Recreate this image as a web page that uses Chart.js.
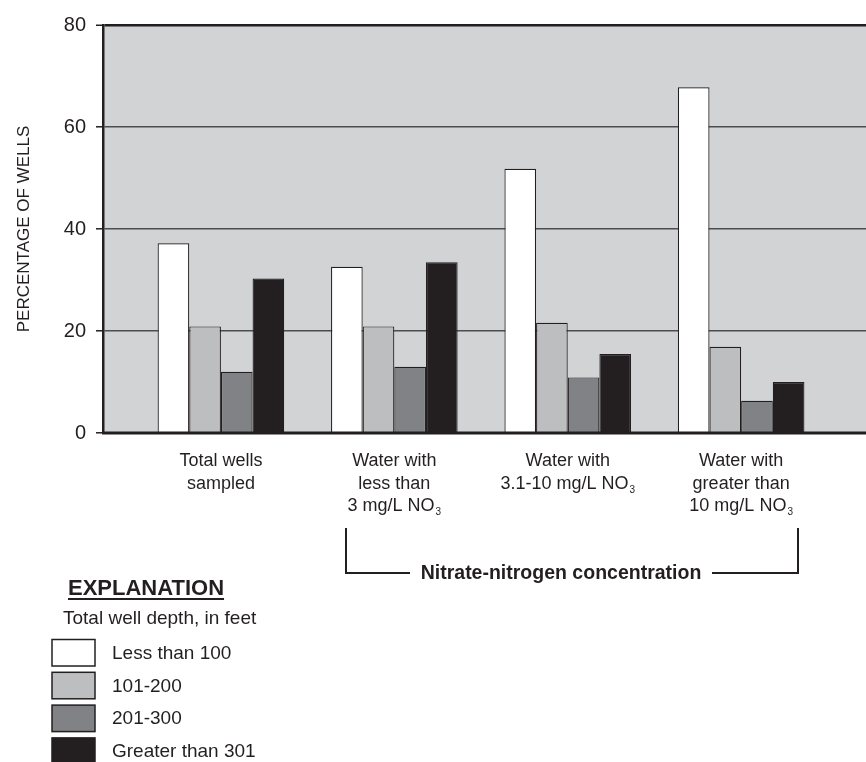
<!DOCTYPE html>
<html>
<head>
<meta charset="utf-8">
<title>Percentage of wells by total well depth</title>
<script src="https://cdn.jsdelivr.net/npm/chart.js@4"></script>
<style>
  body { margin: 0; background: #ffffff; }
  canvas { display: block; }
</style>
</head>
<body>
<canvas id="wellsChart" width="866" height="762"></canvas>
<script>
// data
const categories = [
  ["Total wells", "sampled"],
  ["Water with", "less than", "3 mg/L NO₃"],
  ["Water with", "3.1-10 mg/L NO₃"],
  ["Water with", "greater than", "10 mg/L NO₃"]
];
const depthClasses = ["Less than 100", "101-200", "201-300", "Greater than 301"];
const lessThan100 = [37.2, 32.6, 51.8, 67.8];
const depth101to200 = [20.9, 20.9, 21.6, 16.9];
const depth201to300 = [12.0, 13.0, 10.9, 6.3];
const greaterThan301 = [30.3, 33.5, 15.5, 10.0];
const yTicks = [0, 20, 40, 60, 80];
const bracketTitle = "Nitrate-nitrogen concentration";
const legendTitle = "EXPLANATION";
const legendSubtitle = "Total well depth, in feet";
const yTitle = "PERCENTAGE OF WELLS";

const seriesValues = [lessThan100, depth101to200, depth201to300, greaterThan301];
const barColors = ["#ffffff", "#bcbec0", "#808285", "#231f20"];
const ink = "#231f20";
const family = "'Liberation Sans', Arial, Helvetica, sans-serif";

const datasets = seriesValues.map((vals, s) => ({
  label: depthClasses[s],
  data: vals.map((v, i) => ({ x: i, y: v })),
  backgroundColor: barColors[s],
  borderColor: ink,
  borderWidth: 1.2,
  categoryPercentage: 0.73,
  barPercentage: 1.0
}));

// draws a label line, turning "₃" into a small lowered 3
function drawLabelLine(ctx, text, cx, y, size) {
  const parts = text.split("₃");
  ctx.font = size + "px " + family;
  const w = ctx.measureText(parts[0]).width;
  let subW = 0;
  if (parts.length > 1) {
    ctx.font = Math.round(size * 0.55) + "px " + family;
    subW = ctx.measureText("3").width + 1;
  }
  const x0 = cx - (w + subW) / 2;
  ctx.textAlign = "left";
  ctx.font = size + "px " + family;
  ctx.fillText(parts[0], x0, y);
  if (parts.length > 1) {
    ctx.font = Math.round(size * 0.55) + "px " + family;
    ctx.fillText("3", x0 + w + 1, y + 4);
  }
}

const plotBackground = {
  id: "plotBackground",
  beforeDraw(chart) {
    const { ctx, chartArea: a } = chart;
    ctx.save();
    ctx.fillStyle = "#d1d3d4";
    ctx.fillRect(a.left, a.top, a.right - a.left, a.bottom - a.top);
    ctx.restore();
  }
};

const extras = {
  id: "extras",
  afterDraw(chart) {
    const { ctx, chartArea: a } = chart;
    const x = chart.scales.x;
    ctx.save();
    ctx.strokeStyle = ink;
    ctx.fillStyle = ink;

    // bottom axis line
    ctx.lineWidth = 3;
    ctx.beginPath();
    ctx.moveTo(a.left - 1, a.bottom);
    ctx.lineTo(a.right, a.bottom);
    ctx.stroke();

    // category labels
    ctx.textBaseline = "alphabetic";
    categories.forEach((lines, i) => {
      const cx = x.getPixelForValue(i);
      lines.forEach((line, k) => drawLabelLine(ctx, line, cx, 466 + k * 22.5, 18));
    });

    // bracket under the nitrate groups
    ctx.lineWidth = 2;
    ctx.beginPath();
    ctx.moveTo(346, 528);
    ctx.lineTo(346, 573);
    ctx.lineTo(410, 573);
    ctx.moveTo(712, 573);
    ctx.lineTo(798, 573);
    ctx.lineTo(798, 528);
    ctx.stroke();
    ctx.font = "bold 19.5px " + family;
    ctx.textAlign = "center";
    ctx.textBaseline = "middle";
    ctx.fillText(bracketTitle, 561, 574);

    // explanation block
    ctx.font = "bold 22px " + family;
    ctx.textAlign = "left";
    ctx.textBaseline = "alphabetic";
    ctx.fillText(legendTitle, 68, 595);
    const tw = ctx.measureText(legendTitle).width;
    ctx.lineWidth = 2;
    ctx.beginPath();
    ctx.moveTo(68, 599);
    ctx.lineTo(68 + tw, 599);
    ctx.stroke();
    ctx.font = "19px " + family;
    ctx.fillText(legendSubtitle, 63, 624);

    ctx.textBaseline = "middle";
    depthClasses.forEach((name, s) => {
      const top = 639.5 + s * 32.8;
      ctx.fillStyle = barColors[s];
      ctx.fillRect(52, top, 43, 26.5);
      ctx.lineWidth = 1.5;
      ctx.strokeStyle = ink;
      ctx.strokeRect(52, top, 43, 26.5);
      ctx.fillStyle = ink;
      ctx.font = "19px " + family;
      ctx.fillText(name, 112, top + 14);
    });
    ctx.restore();
  }
};

new Chart(document.getElementById("wellsChart"), {
  type: "bar",
  data: { datasets },
  options: {
    responsive: false,
    animation: false,
    layout: { padding: { top: 25, right: 0, bottom: 329, left: 0 } },
    plugins: {
      legend: { display: false },
      tooltip: { enabled: false }
    },
    scales: {
      x: {
        type: "linear",
        display: false,
        offset: false,
        bounds: "data",
        min: -0.68,
        max: 3.72,
        afterBuildTicks: s => { s.ticks = categories.map((c, i) => ({ value: i })); }
      },
      y: {
        min: 0,
        max: 80,
        afterBuildTicks: s => { s.ticks = yTicks.map(v => ({ value: v })); },
        afterFit: s => { s.width = 103; },
        border: { display: true, color: ink, width: 2.5 },
        grid: {
          color: c => (c.tick && c.tick.value === 80 ? ink : "#4d4d4f"),
          lineWidth: c => (c.tick && c.tick.value === 80 ? 2.5 : 1.6),
          tickLength: 7,
          tickColor: ink,
          tickWidth: 1.5
        },
        ticks: {
          padding: 10,
          color: ink,
          font: { family: family, size: 20 }
        },
        title: {
          display: true,
          text: yTitle,
          color: ink,
          padding: { top: 14, bottom: 0 },
          font: { family: family, size: 17 }
        }
      }
    }
  },
  plugins: [plotBackground, extras]
});
</script>
</body>
</html>
